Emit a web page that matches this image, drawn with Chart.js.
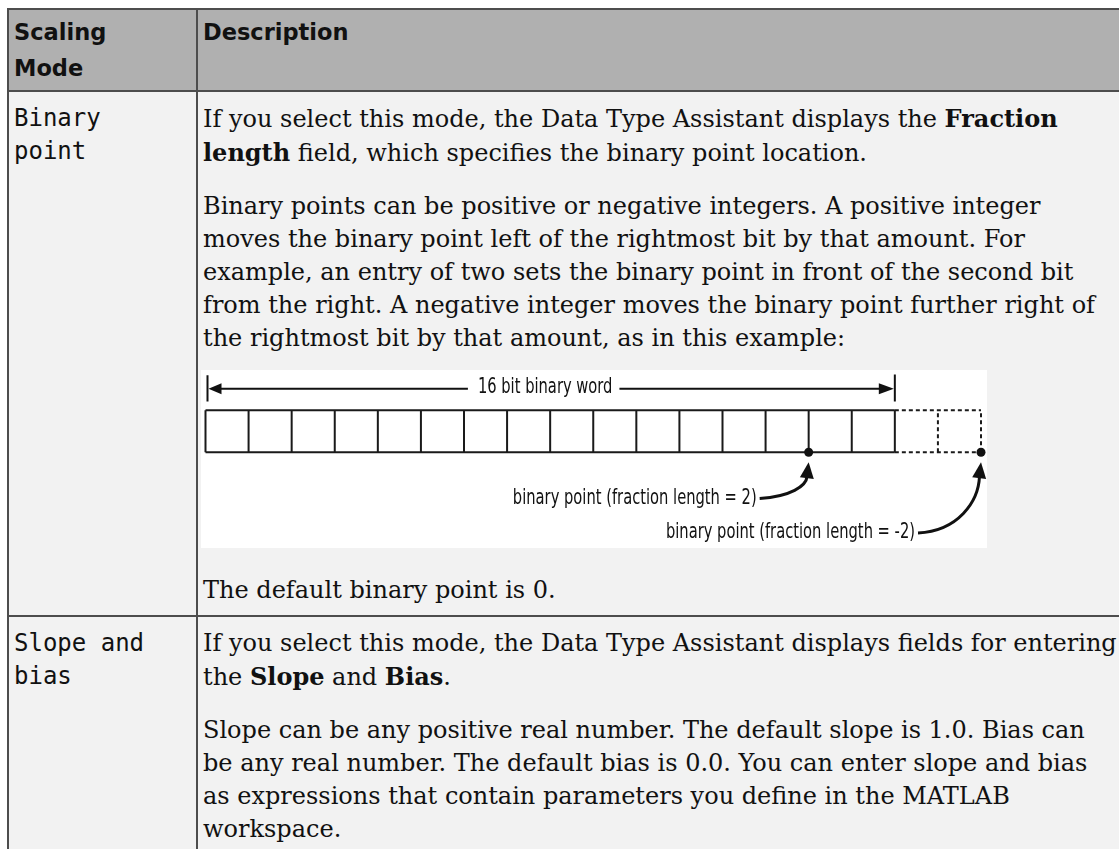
<!DOCTYPE html>
<html>
<head>
<meta charset="utf-8">
<script src="https://cdn.jsdelivr.net/npm/chart.js@4/dist/chart.umd.min.js"></script>
<style>
    body { margin: 0; background: #fff; }
    table { position: absolute; left: 7px; top: 8px; border-collapse: collapse; width: 1121px; }
    th, td { border: 2px solid #4d4d4d; vertical-align: top; text-align: left; }
    th { background: #b0b0b0; font: bold 22.5px/36px 'DejaVu Sans'; color: #111; padding: 4px 8px 4px 5px; }
    td { background: #f2f2f2; font: 24px/33px 'DejaVu Serif'; color: #111; padding: 10px 8px 8px 5px; }
    th.mode, td.mode { width: 160px; padding-right: 22px; }
    td.mode { font-family: 'DejaVu Sans Mono'; }
    p { margin: 0 0 20px 0; }
    p:last-child { margin-bottom: 0; }
    #diagram { width: 786px; height: 178px; background: #fff; margin: -5px 0 26px -2px; }
</style>
</head>
<body>
<table>
    <tr><th class="mode">Scaling Mode</th><th>Description</th></tr>
    <tr>
        <td class="mode">Binary point</td>
        <td>
            <p>If you select this mode, the Data Type Assistant displays the <b>Fraction length</b> field, which specifies the binary point location.</p>
            <p>Binary points can be positive or negative integers. A positive integer moves the binary point left of the rightmost bit by that amount. For example, an entry of two sets the binary point in front of the second bit from the right. A negative integer moves the binary point further right of the rightmost bit by that amount, as in this example:</p>
            <div id="diagram"><canvas id="myChart" width="786" height="178"></canvas></div>
            <p>The default binary point is 0.</p>
        </td>
    </tr>
    <tr>
        <td class="mode">Slope and bias</td>
        <td>
            <p>If you select this mode, the Data Type Assistant displays fields for entering the <b>Slope</b> and <b>Bias</b>.</p>
            <p>Slope can be any positive real number. The default slope is 1.0. Bias can be any real number. The default bias is 0.0. You can enter slope and bias as expressions that contain parameters you define in the MATLAB workspace.</p>
        </td>
    </tr>
</table>

<script>
    // word layout
    var wordBits = 16;
    var extraBits = 2;
    var fractionLengths = [2, -2];
    var pointLabels = ['binary point (fraction length = 2)', 'binary point (fraction length = -2)'];
    var wordLabel = '16 bit binary word';

    // cell outlines between bit boundaries a..b, gaps as null
    function cellLines(a, b, withFirst) {
        var pts = [];
        for (var i = a; i <= b; i++) {
            if (i === a && !withFirst) continue;
            pts.push({x: i, y: 0}, {x: i, y: 1}, {x: i, y: null});
        }
        pts.push({x: a, y: 0}, {x: b, y: 0}, {x: b, y: null});
        pts.push({x: a, y: 1}, {x: b, y: 1});
        return pts;
    }

    function narrowText(ctx, text, x, y, align, squeeze) {
        var w = ctx.measureText(text).width * squeeze;
        var left = align === 'right' ? x - w : (align === 'center' ? x - w / 2 : x);
        ctx.save();
        ctx.translate(left, y);
        ctx.scale(squeeze, 1);
        ctx.textAlign = 'left';
        ctx.textBaseline = 'middle';
        ctx.fillText(text, 0, 0);
        ctx.restore();
        return w;
    }

    function arrowHead(ctx, tx, ty, fx, fy, len, half) {
        var dx = tx - fx, dy = ty - fy, d = Math.sqrt(dx * dx + dy * dy);
        var ux = dx / d, uy = dy / d;
        var bx = tx - ux * len, by = ty - uy * len;
        ctx.beginPath();
        ctx.moveTo(tx, ty);
        ctx.lineTo(bx - uy * half, by + ux * half);
        ctx.lineTo(bx + uy * half, by - ux * half);
        ctx.closePath();
        ctx.fill();
    }

    var diagramPlugin = {
        id: 'diagramPlugin',
        afterDatasetsDraw: function (chart) {
            var ctx = chart.ctx;
            var xScale = chart.scales['x'];
            var yScale = chart.scales['y'];
            ctx.save();
            ctx.fillStyle = '#111';
            ctx.strokeStyle = '#111';

            // dimension line over the word
            var x0 = xScale.getPixelForValue(0) + 2;
            var x1 = xScale.getPixelForValue(wordBits);
            var yd = yScale.getPixelForValue(1.51);
            ctx.lineWidth = 2;
            ctx.beginPath();
            ctx.moveTo(x0, yScale.getPixelForValue(1.83));
            ctx.lineTo(x0, yScale.getPixelForValue(1.21));
            ctx.moveTo(x1, yScale.getPixelForValue(1.85));
            ctx.lineTo(x1, yScale.getPixelForValue(1.21));
            ctx.stroke();

            ctx.font = '21px "DejaVu Sans"';
            var cx = (x0 + x1) / 2 - 6;
            var tw = narrowText(ctx, wordLabel, cx, yd - 1, 'center', 0.7);
            ctx.beginPath();
            ctx.moveTo(x0 + 10, yd);
            ctx.lineTo(cx - tw / 2 - 10, yd);
            ctx.moveTo(cx + tw / 2 + 7, yd);
            ctx.lineTo(x1 - 14, yd);
            ctx.stroke();
            arrowHead(ctx, x0 + 1, yd, x0 + 20, yd, 13, 5.5);
            arrowHead(ctx, x1 - 1, yd, x1 - 20, yd, 15, 5.5);

            // binary point labels with curved arrows
            var rows = [-1.1, -1.92];
            var gaps = [52, 66];
            ctx.font = '21px "DejaVu Sans"';
            fractionLengths.forEach(function (f, i) {
                var px = xScale.getPixelForValue(wordBits - f);
                var py = yScale.getPixelForValue(0);
                var ly = yScale.getPixelForValue(rows[i]);
                var lr = px - gaps[i];
                narrowText(ctx, pointLabels[i], lr, ly, 'right', 0.7);
                var sx = lr + 3, sy = ly;
                var ex = px - 1.5, ey = py + 24;
                ctx.lineWidth = 3;
                ctx.beginPath();
                ctx.moveTo(sx, sy);
                ctx.bezierCurveTo(sx + (ex - sx) * 0.65, sy - 2, ex - 1, ey + (sy - ey) * 0.45, ex, ey);
                ctx.stroke();
                arrowHead(ctx, px, py + 10, ex - 0.8, ey + 6, 16, 7);
            });
            ctx.restore();
        }
    };

    Chart.register(diagramPlugin);

    var ctx = document.getElementById('myChart');

    new Chart(ctx, {
        type: 'scatter',
        data: {
            datasets: [{
                data: fractionLengths.map(function (f) { return {x: wordBits - f, y: 0}; }),
                pointRadius: 4.5,
                pointBackgroundColor: '#111',
                pointBorderWidth: 0,
                clip: false
            }, {
                data: cellLines(0, wordBits, true),
                showLine: true,
                borderColor: '#1a1a1a',
                borderWidth: 2,
                pointRadius: 0,
                spanGaps: false,
                clip: false
            }, {
                data: cellLines(wordBits, wordBits + extraBits, false),
                showLine: true,
                borderColor: '#1a1a1a',
                borderWidth: 2,
                borderDash: [4, 3],
                pointRadius: 0,
                spanGaps: false,
                clip: false
            }]
        },
        options: {
            responsive: false,
            animation: false,
            devicePixelRatio: 1,
            layout: { padding: { left: 1, right: 6, top: 0, bottom: 0 } },
            scales: {
                x: { type: 'linear', min: 0, max: wordBits + extraBits, display: false },
                y: { min: -2.17, max: 1.85, display: false }
            },
            plugins: {
                legend: { display: false },
                tooltip: { enabled: false }
            }
        }
    });
</script>
</body>
</html>
